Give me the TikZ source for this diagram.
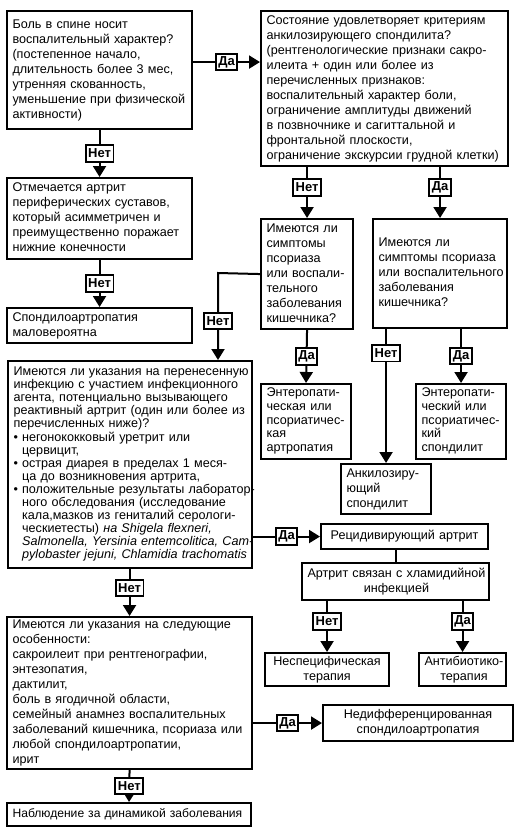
\documentclass[tikz,border=0pt]{standalone}
\usepackage{fontspec}
\setmainfont{Liberation Sans}
\usetikzlibrary{arrows.meta}
\newcommand\tl[1]{\begin{tabular}{@{}l@{}}#1\end{tabular}}
\newcommand\tc[1]{\begin{tabular}{@{}c@{}}#1\end{tabular}}
\newcommand\bul{\textbullet\ }
\newcommand\bulsp{\hphantom{\textbullet\ }}
\begin{document}
\begin{tikzpicture}[x=1pt,y=-1pt,
  box/.style={draw, line width=2.1pt, fill=white, anchor=north west,
    inner xsep=5.5pt, inner ysep=1pt, align=left, font=\fontsize{12.6}{15}\selectfont},
  cbox/.style={box, align=center},
  lbl/.style={draw, line width=1.8pt, fill=white, font=\bfseries\fontsize{13}{13}\selectfont,
    inner xsep=2.5pt, inner ysep=0pt, minimum height=16.5pt},
  conn/.style={line width=2pt},
  arr/.style={conn, -{Triangle[length=11pt,width=13pt]}}
]
\fill[white] (0,0) rectangle (519,832);
\useasboundingbox (0,0) rectangle (519,832);

\node[box, minimum width=185, text width=174, minimum height=118] (b1) at (6,10)
 {\tl{Боль в спине носит\\ воспалительный характер?\\ (постепенное начало,\\ длительность более 3 мес,\\ утренняя скованность,\\ уменьшение при физической\\ активности)}};

\node[box, minimum width=247, text width=236, minimum height=155] (b2) at (260,10)
 {\tl{Состояние удовлетворяет критериям\\ анкилозирующего спондилита?\\ (рентгенологические признаки сакро-\\ илеита + один или более из\\ перечисленных признаков:\\ воспалительный характер боли,\\ ограничение амплитуды движений\\ в позвночнике и сагиттальной и\\ фронтальной плоскости,\\ ограничение экскурсии грудной клетки)}};

\node[box, minimum width=185, text width=174, minimum height=81] (b3) at (6,177)
 {\tl{Отмечается артрит\\ периферических суставов,\\ который асимметричен и\\ преимущественно поражает\\ нижние конечности}};

\node[box, minimum width=185, text width=174, minimum height=35] (b4) at (6,307)
 {\tl{Спондилоартропатия\\ маловероятна}};

\node[box, minimum width=92, text width=81, minimum height=110] (b5) at (260,218)
 {\tl{Имеются ли\\ симптомы\\ псориаза\\ или воспали-\\ тельного\\ заболевания\\ кишечника?}};

\node[box, minimum width=134, text width=123, minimum height=109] (b5r) at (372,218)
 {\tl{Имеются ли\\ симптомы псориаза\\ или воспалительного\\ заболевания\\ кишечника?}};

\node[box, minimum width=90, text width=79, minimum height=75, font=\fontsize{12.6}{13.7}\selectfont] (b7) at (260,383)
 {\tl{Энтеропати-\\ ческая или\\ псориатичес-\\ кая\\ артропатия}};

\node[box, minimum width=90, text width=79, minimum height=75, font=\fontsize{12.6}{13.7}\selectfont] (b8) at (415,383)
 {\tl{Энтеропати-\\ ческий или\\ псориатичес-\\ кий\\ спондилит}};

\node[box, minimum width=90, text width=79, minimum height=50] (b9) at (340,463)
 {\tl{Анкилозиру-\\ ющий\\ спондилит}};

\node[box, minimum width=244, text width=233, minimum height=207, font=\fontsize{12.6}{13}\selectfont] (b6) at (7,360)
 {\tl{Имеются ли указания на перенесенную\\ инфекцию с участием инфекционного\\ агента, потенциально вызывающего\\ реактивный артрит (один или более из\\ перечисленных ниже)?\\
 \bul негонококковый уретрит или\\ \bulsp цервицит,\\
 \bul острая диарея в пределах 1 меся-\\ \bulsp ца до возникновения артрита,\\
 \bul положительные результаты лаборатор-\\ \bulsp ного обследования (исследование\\ \bulsp кала,мазков из гениталий серологи-\\ \bulsp ческиетесты) \textit{на Shigela flexneri,}\\ \bulsp \textit{Salmonella, Yersinia entemcolitica, Cam-}\\ \bulsp \textit{pylobaster jejuni, Chlamidia trachomatis}}};

\node[cbox, minimum width=167, text width=156, minimum height=25] (b10) at (320,523)
 {Рецидивирующий артрит};

\node[cbox, minimum width=187, text width=176, minimum height=37] (b11) at (301,562)
 {\tc{Артрит связан с хламидийной\\ инфекцией}};

\node[cbox, minimum width=124, text width=113, minimum height=33] (b12) at (264,652)
 {\tc{Неспецифическая\\ терапия}};

\node[cbox, minimum width=87, text width=76, minimum height=33] (b13) at (418,652)
 {\tc{Антибиотико-\\ терапия}};

\node[box, minimum width=245, text width=234, minimum height=137] (b14) at (6,616)
 {\tl{Имеются ли указания на следующие\\ особенности:\\ сакроилеит при рентгенографии,\\ энтезопатия,\\ дактилит,\\ боль в ягодичной области,\\ семейный анамнез воспалительных\\ заболеваний кишечника, псориаза или\\ любой спондилоартропатии,\\ ирит}};

\node[cbox, minimum width=190, text width=179, minimum height=36] (b15) at (322,704)
 {\tc{Недифференцированная\\ спондилоартропатия}};

\node[box, minimum width=244, text width=233, minimum height=23, font=\fontsize{12.1}{15}\selectfont] (b16) at (6,802)
 {\tl{Наблюдение за динамикой заболевания}};

\coordinate (c1) at (218,273);

\draw[arr] ([yshift=8pt]b1.east) -- ([yshift=8pt]b1.east -| b2.west) node[lbl,midway]{Да};
\draw[arr] (b1.south) -- node[lbl]{Нет} (b3.north);
\draw[arr] (b3.south) -- node[lbl]{Нет} (b4.north);
\draw[arr] (b5.north |- b2.south) -- node[lbl,pos=.4]{Нет} (b5.north);
\draw[arr] (b5r.north |- b2.south) -- node[lbl,pos=.4]{Да} (b5r.north);
\draw[arr] (b5.west) -- (c1) -- node[lbl,pos=.55]{Нет} (c1 |- b6.north);
\draw[arr] (b5.south) -- node[lbl]{Да} (b7.north);
\draw[arr] (b9.north |- b5r.south) -- node[lbl,pos=.18]{Нет} (b9.north);
\draw[arr] (b8.north |- b5r.south) -- node[lbl]{Да} (b8.north);
\draw[arr] (b6.east |- b10.west) -- node[lbl]{Да} (b10.west);
\draw[conn] (b11.north |- b10.south) -- (b11.north);
\draw[arr] (b12.north |- b11.south) -- node[lbl,pos=.4]{Нет} (b12.north);
\draw[arr] (b13.north |- b11.south) -- node[lbl,pos=.4]{Да} (b13.north);
\draw[arr] (b14.north |- b6.south) -- node[lbl,pos=.4]{Нет} (b14.north);
\draw[arr] (b14.east |- b15.west) -- node[lbl]{Да} (b15.west);
\draw[arr] (b14.south) -- node[lbl]{Нет} (b16.north);
\end{tikzpicture}
\end{document}
